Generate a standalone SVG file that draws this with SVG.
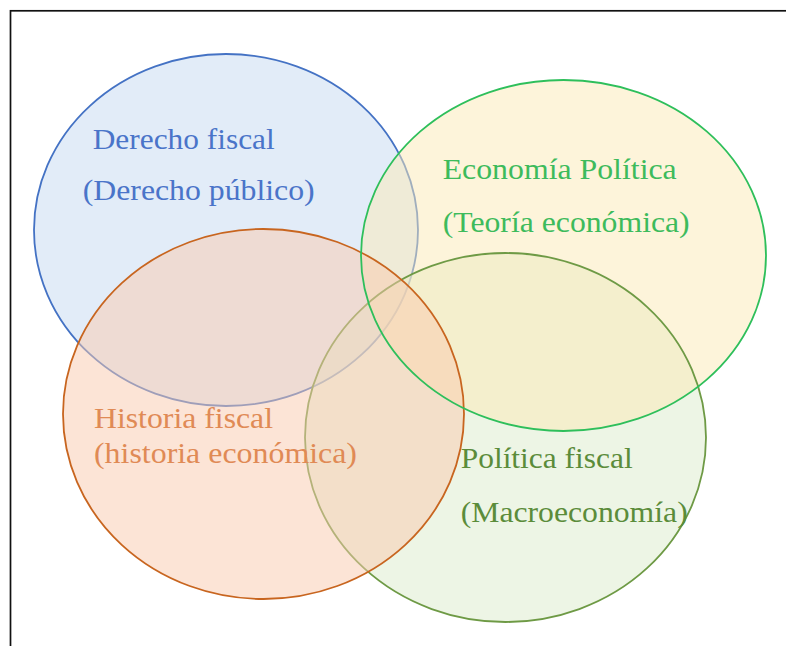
<svg xmlns="http://www.w3.org/2000/svg" width="786" height="646" viewBox="0 0 786 646">
<style>
.e{stroke-width:1.8;}
.s{fill:none;stroke-width:1.8;}
.t{font-family:"Liberation Serif","Times New Roman",serif;font-size:29px;}
</style>
<defs>
<ellipse id="shape-politica" cx="505.5" cy="437.5" rx="200.5" ry="184.5"/>
<ellipse id="shape-economia" cx="563.5" cy="255.5" rx="202.5" ry="175.5"/>
</defs>
<rect x="0" y="0" width="786" height="646" fill="#ffffff"/>
<rect x="10.5" y="10.8" width="900" height="800" fill="none" stroke="#111" stroke-width="1.7"/>
<g id="derecho">
<ellipse class="e" cx="226" cy="230" rx="192" ry="176" fill="#c5d9f1" fill-opacity="0.5" stroke="#4472c4"/>
</g>
<g id="politica">
<use href="#shape-politica" fill="#dbebcc" fill-opacity="0.5"/>
</g>
<g id="economia">
<use href="#shape-economia" fill="#fce9b6" fill-opacity="0.5"/>
</g>
<use href="#shape-politica" class="s" stroke="#6e9a45"/>
<g id="historia">
<ellipse class="e" cx="263.5" cy="414" rx="200.5" ry="185" fill="#f9c9ad" fill-opacity="0.5" stroke="#c8651f"/>
</g>
<use href="#shape-economia" class="s" stroke="#2ebf5b"/>
<g id="labels">
<text class="t" fill="#4a74c9" x="92.7" y="149.3" textLength="182" lengthAdjust="spacingAndGlyphs">Derecho fiscal</text>
<text class="t" fill="#4a74c9" x="82.7" y="200" textLength="232" lengthAdjust="spacingAndGlyphs">(Derecho público)</text>
<text class="t" fill="#3dbb5c" x="442.7" y="179.3" textLength="234" lengthAdjust="spacingAndGlyphs">Economía Política</text>
<text class="t" fill="#3dbb5c" x="442.7" y="231.7" textLength="247" lengthAdjust="spacingAndGlyphs">(Teoría económica)</text>
<text class="t" fill="#e08a55" x="94" y="428" textLength="179" lengthAdjust="spacingAndGlyphs">Historia fiscal</text>
<text class="t" fill="#e08a55" x="94" y="463" textLength="263" lengthAdjust="spacingAndGlyphs">(historia económica)</text>
<text class="t" fill="#5b8c3a" x="460.7" y="468" textLength="172" lengthAdjust="spacingAndGlyphs">Política fiscal</text>
<text class="t" fill="#5b8c3a" x="460.7" y="521.7" textLength="227" lengthAdjust="spacingAndGlyphs">(Macroeconomía)</text>
</g>
</svg>
